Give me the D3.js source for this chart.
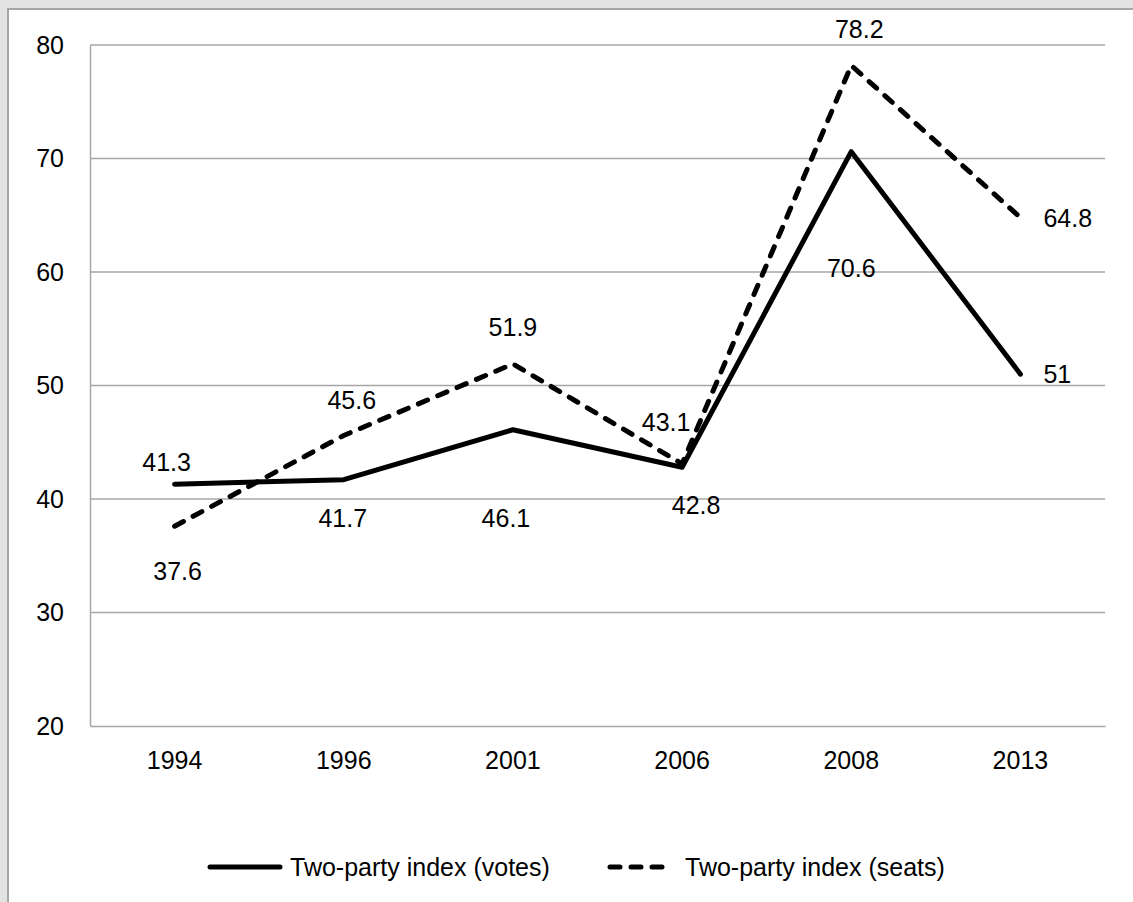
<!DOCTYPE html>
<html>
<head>
<meta charset="utf-8">
<script src="https://cdn.jsdelivr.net/npm/d3@7/dist/d3.min.js"></script>
<style>
  html, body { margin: 0; padding: 0; background: #e3e3e3; }
  svg { display: block; }
  text { font-family: "Liberation Sans", Arial, sans-serif; fill: #000; }
</style>
</head>
<body>
<svg id="chart" width="1133" height="902"></svg>
<script>
// Election years and the two two-party index series
const years = ["1994", "1996", "2001", "2006", "2008", "2013"];
const votes = [41.3, 41.7, 46.1, 42.8, 70.6, 51];
const seats = [37.6, 45.6, 51.9, 43.1, 78.2, 64.8];
const yTicks = [20, 30, 40, 50, 60, 70, 80];
const seriesNames = ["Two-party index (votes)", "Two-party index (seats)"];

// Hand-placed data label offsets relative to each point
const votesLabelPos = [
  { dx: -8, dy: -22 }, { dx: -1, dy: 38 }, { dx: -7, dy: 88 },
  { dx: 14, dy: 38 }, { dx: 0, dy: 116 }, { dx: 23, dy: 0, anchor: "start" }
];
const seatsLabelPos = [
  { dx: 3, dy: 45 }, { dx: 8, dy: -35 }, { dx: 0, dy: -37 },
  { dx: -16, dy: -42 }, { dx: 8, dy: -36 }, { dx: 23, dy: 0, anchor: "start" }
];

const svg = d3.select("#chart");
const W = 1133, H = 902;
const plot = { left: 90, right: 1105, top: 45, bottom: 726 };
const FONT = 25;

// Chart card with its border
svg.append("rect").attr("x", 0).attr("y", 0).attr("width", W).attr("height", H).attr("fill", "#e3e3e3");
svg.append("rect").attr("x", 8).attr("y", 9).attr("width", W + 10).attr("height", H + 10)
  .attr("fill", "#fff").attr("stroke", "#a6a6a6").attr("stroke-width", 2);

const x = d3.scaleBand().domain(years).range([plot.left, plot.right]).paddingInner(0).paddingOuter(0);
const cx = d => x(d) + x.bandwidth() / 2;
const y = d3.scaleLinear().domain([20, 80]).range([plot.bottom, plot.top]);

// Horizontal gridlines
svg.append("g").selectAll("line").data(yTicks.filter(t => t !== 20)).join("line")
  .attr("x1", plot.left).attr("x2", plot.right)
  .attr("y1", d => y(d)).attr("y2", d => y(d))
  .attr("stroke", "#a6a6a6").attr("stroke-width", 1.5);

// Y axis
const yAxis = svg.append("g").attr("transform", `translate(${plot.left},0)`)
  .call(d3.axisLeft(y).tickValues(yTicks).tickSize(0).tickPadding(26).tickFormat(d3.format("d")));
yAxis.select(".domain").attr("stroke", "#a6a6a6").attr("stroke-width", 1.5);
yAxis.selectAll("text").style("font-size", FONT + "px").attr("fill", "#000")
  .style("font-family", '"Liberation Sans", Arial, sans-serif');

// X axis
const xAxis = svg.append("g").attr("transform", `translate(0,${plot.bottom})`)
  .call(d3.axisBottom(x).tickSize(0).tickPadding(25));
xAxis.select(".domain").attr("stroke", "#a6a6a6").attr("stroke-width", 1.5);
xAxis.selectAll("text").style("font-size", FONT + "px").attr("fill", "#000")
  .style("font-family", '"Liberation Sans", Arial, sans-serif');

const line = d3.line().x((d, i) => cx(years[i])).y(d => y(d));

const series = [
  { name: seriesNames[0], values: votes, dash: null, labels: votesLabelPos },
  { name: seriesNames[1], values: seats, dash: "10,11", labels: seatsLabelPos }
];

series.forEach(s => {
  svg.append("path").datum(s.values)
    .attr("d", line).attr("fill", "none").attr("stroke", "#000")
    .attr("stroke-width", 5).attr("stroke-linecap", "round").attr("stroke-linejoin", "round")
    .attr("stroke-dasharray", s.dash);
});

// Data labels
series.forEach(s => {
  svg.append("g").selectAll("text").data(s.values).join("text")
    .attr("x", (d, i) => cx(years[i]) + s.labels[i].dx)
    .attr("y", (d, i) => y(d) + s.labels[i].dy)
    .attr("text-anchor", (d, i) => s.labels[i].anchor || "middle")
    .attr("dominant-baseline", "central")
    .style("font-size", FONT + "px")
    .text(d => d);
});

// Legend
const legendY = 867;
const legendItems = [
  { x0: 210, x1: 280, tx: 290, dash: null, name: seriesNames[0] },
  { x0: 610, x1: 668, tx: 685, dash: "10,11", name: seriesNames[1] }
];
const lg = svg.append("g");
legendItems.forEach(it => {
  lg.append("line").attr("x1", it.x0).attr("x2", it.x1).attr("y1", legendY).attr("y2", legendY)
    .attr("stroke", "#000").attr("stroke-width", 5).attr("stroke-linecap", "round")
    .attr("stroke-dasharray", it.dash);
  lg.append("text").attr("x", it.tx).attr("y", legendY).attr("dominant-baseline", "central")
    .style("font-size", FONT + "px").text(it.name);
});
</script>
</body>
</html>
